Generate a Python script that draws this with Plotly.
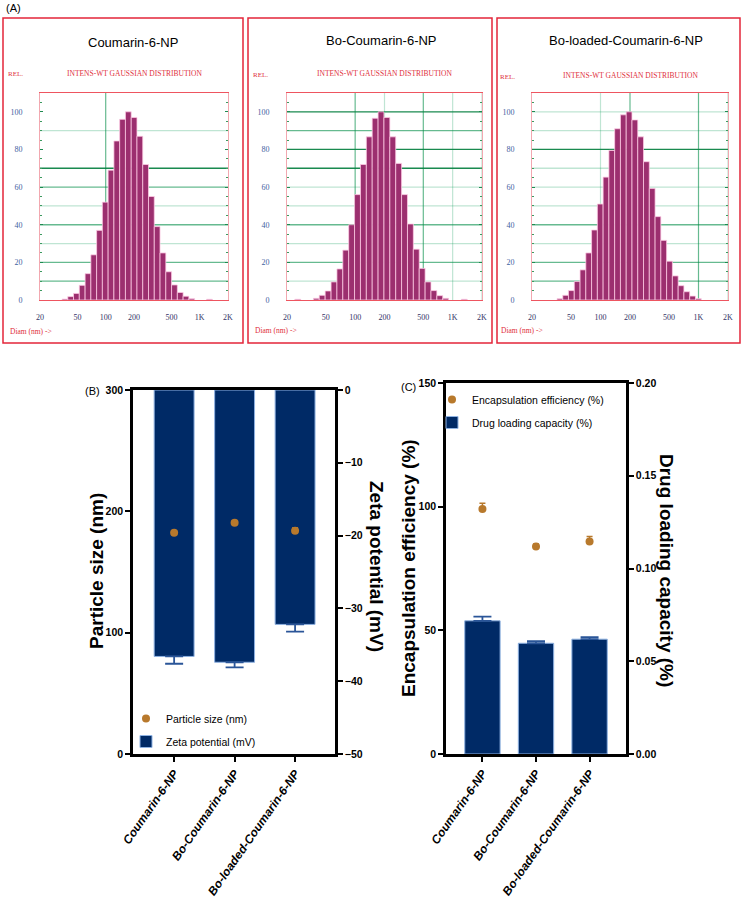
import numpy as np
import plotly.graph_objects as go

W, H = 743, 908

# ---------------- DATA ----------------
panel_titles = ["Coumarin-6-NP", "Bo-Coumarin-6-NP", "Bo-loaded-Coumarin-6-NP"]

# Panel A: intensity-weighted Gaussian distributions (bin centre diameter nm, relative intensity)
diam1 = [36.8, 42.4, 48.8, 56.2, 64.8, 74.6, 85.9, 98.9, 113.9, 131.2, 151.1, 174.0, 200.5,
         230.9, 265.9, 306.3, 352.7, 406.3, 467.9, 538.9, 620.6, 714.8, 823.2, 1270]
rel1 = [0.5, 1.8, 3.5, 7.8, 14, 24, 37, 52, 69, 84.5, 96, 100, 97, 87, 72, 55, 39, 25, 15, 8, 4, 2, 0.7, 0.4]

diam2 = [25.8, 40.0, 45.9, 52.8, 60.7, 69.7, 80.1, 92.0, 105.7, 121.5, 139.6, 160.3, 184.2,
         211.7, 243.2, 279.4, 321.0, 368.8, 423.7, 486.8, 559.3, 642.7, 738.4, 848.3, 1315]
rel2 = [0.4, 0.9, 2.5, 4.8, 9.6, 16.5, 26.5, 40, 56, 72, 86.7, 96.6, 100, 97, 86.7, 72.6, 56,
        40.4, 27, 16.8, 9.6, 5, 2.3, 0.9, 0.4]

diam3 = [38.5, 44.1, 50.4, 57.8, 66.2, 75.8, 86.8, 99.4, 113.8, 130.4, 149.3, 171.0, 195.8,
         224.3, 256.8, 294.1, 336.9, 385.8, 441.8, 506.0, 579.4, 663.6, 760.0, 870.3, 996.8]
rel3 = [0.7, 2.5, 5, 9.8, 16, 25, 37.2, 51, 65.3, 79.5, 91, 98.4, 100, 95.7, 86.7, 73.5, 59.3,
        44.3, 31.7, 20.6, 12.8, 7.6, 4.4, 2.1, 0.7]

diam_ticks = [20, 50, 100, 200, 500, 1000, 2000]
diam_ticktext = ["20", "50", "100", "200", "500", "1K", "2K"]
rel_ticks = [0, 20, 40, 60, 80, 100]

# Panel B
categories = ["Coumarin-6-NP", "Bo-Coumarin-6-NP", "Bo-loaded-Coumarin-6-NP"]
particle_size = [182.4, 190.6, 184.0]
particle_size_err = [1.5, 1.5, 2.5]
zeta = [-36.6, -37.4, -32.2]
zeta_err = [1.0, 0.7, 1.0]

# Panel C
enc_eff = [99.1, 83.9, 85.9]
enc_eff_err = [2.3, 1.0, 2.0]
drug_load = [0.0718, 0.0597, 0.0619]
drug_load_err = [0.0023, 0.0011, 0.0011]

# ---------------- HELPERS ----------------
def fx(p):
    return p / W

def fy(p):
    return 1 - p / H

BAR_A = "#9C2F6F"
NAVY = "#002A66"
BROWN = "#B8792C"
RED = "#E3263A"
DARK_G = "rgba(0,125,60,0.9)"
MED_G = "rgba(0,140,70,0.6)"
LIGHT_G = "rgba(0,150,80,0.25)"

SANS = "Liberation Sans, Arial"
SERIF = "Liberation Serif, Times New Roman"

fig = go.Figure()

# ---------------- PANEL A ----------------
hist_domains_x = [(40, 228), (287, 482), (532, 728)]
hist_y = (93, 300)
boxes = [(3, 243), (248, 492), (497, 740)]
title_pos = [(133, 42), (382, 40), (626, 41)]
sub_pos = [(134, 73), (384, 73), (630, 75)]
rel_pos = [(6, 74), (251, 75), (498, 77)]
diam_pos = [(8, 331), (253, 330), (499, 330)]

grid_h = [
    {10: MED_G, 20: MED_G, 30: LIGHT_G, 40: MED_G, 50: LIGHT_G, 60: MED_G, 70: DARK_G, 90: LIGHT_G},
    {10: LIGHT_G, 20: MED_G, 30: LIGHT_G, 40: MED_G, 50: LIGHT_G, 60: LIGHT_G, 70: DARK_G, 80: DARK_G, 90: MED_G, 100: DARK_G},
    {10: MED_G, 20: MED_G, 30: LIGHT_G, 40: MED_G, 50: LIGHT_G, 60: LIGHT_G, 70: LIGHT_G, 80: DARK_G, 90: LIGHT_G, 100: LIGHT_G},
]
grid_v = [
    {100: MED_G},
    {100: MED_G, 200: LIGHT_G, 500: MED_G, 1000: LIGHT_G, 2000: LIGHT_G},
    {100: LIGHT_G, 200: MED_G, 1000: MED_G, 2000: LIGHT_G},
]

shapes = []
annotations = []
layout_axes = {}

for i, (d, r) in enumerate([(diam1, rel1), (diam2, rel2), (diam3, rel3)]):
    n = i + 1
    sfx = "" if n == 1 else str(n)
    logd = np.log10(d)
    w = float(np.median(np.diff(logd)))
    fig.add_trace(go.Bar(
        x=logd, y=r, width=w,
        marker=dict(color=BAR_A, line=dict(color="rgba(255,205,230,0.95)", width=0.8)),
        xaxis=f"x{sfx}", yaxis=f"y{sfx}", showlegend=False, hoverinfo="skip"))
    x0, x1 = hist_domains_x[i]
    layout_axes[f"xaxis{sfx}"] = dict(
        domain=[fx(x0), fx(x1)], anchor=f"y{sfx}",
        range=[np.log10(20), np.log10(2000)],
        tickvals=np.log10(diam_ticks), ticktext=diam_ticktext,
        tickfont=dict(family=SERIF, size=8, color="#333366"),
        showline=True, linecolor="#EE5560", linewidth=1, mirror=True,
        showgrid=False, zeroline=False, ticks="", ticklabelstandoff=9)
    layout_axes[f"yaxis{sfx}"] = dict(
        domain=[fy(hist_y[1]), fy(hist_y[0])], anchor=f"x{sfx}",
        range=[0, 110], tickvals=rel_ticks,
        tickfont=dict(family=SERIF, size=8, color="#3F5F9F"),
        showline=True, linecolor="#F2A8B0", linewidth=1, mirror="ticks",
        ticks="inside", ticklen=3, tickcolor="#1E8A50",
        minor=dict(dtick=5, ticks="inside", ticklen=2, tickcolor="#3C9A60"),
        showgrid=False, zeroline=False, ticklabelstandoff=15)
    for lvl, col in grid_h[i].items():
        shapes.append(dict(type="line", xref=f"x{sfx} domain", yref=f"y{sfx}",
                           x0=0, x1=1, y0=lvl, y1=lvl, layer="below",
                           line=dict(color=col, width=1.3)))
    for lvl, col in grid_v[i].items():
        shapes.append(dict(type="line", xref=f"x{sfx}", yref=f"y{sfx} domain",
                           x0=np.log10(lvl), x1=np.log10(lvl), y0=0, y1=1, layer="below",
                           line=dict(color=col, width=1.2)))
    bx0, bx1 = boxes[i]
    shapes.append(dict(type="rect", xref="paper", yref="paper",
                       x0=fx(bx0), x1=fx(bx1), y0=fy(343), y1=fy(18),
                       line=dict(color=RED, width=1.5)))
    tx, ty = title_pos[i]
    annotations.append(dict(x=fx(tx), y=fy(ty), xref="paper", yref="paper", showarrow=False,
                            text=panel_titles[i], font=dict(family=SANS, size=13, color="black"),
                            xanchor="center", yanchor="middle"))
    sx, sy = sub_pos[i]
    annotations.append(dict(x=fx(sx), y=fy(sy), xref="paper", yref="paper", showarrow=False,
                            text="INTENS-WT GAUSSIAN DISTRIBUTION",
                            font=dict(family=SERIF, size=7.5, color="#E0303C"),
                            xanchor="center", yanchor="middle"))
    rx, ry = rel_pos[i]
    annotations.append(dict(x=fx(rx), y=fy(ry), xref="paper", yref="paper", showarrow=False,
                            text="REL.", font=dict(family=SERIF, size=7, color="#E0303C"),
                            xanchor="left", yanchor="middle"))
    dx, dy = diam_pos[i]
    annotations.append(dict(x=fx(dx), y=fy(dy), xref="paper", yref="paper", showarrow=False,
                            text="Diam (nm) ->", font=dict(family=SERIF, size=7.5, color="#E0303C"),
                            xanchor="left", yanchor="middle"))

annotations.append(dict(x=fx(4), y=fy(8), xref="paper", yref="paper", showarrow=False,
                        text="(A)", font=dict(family=SANS, size=11, color="black"),
                        xanchor="left", yanchor="middle"))

# ---------------- PANEL B ----------------
cat_x = list(range(len(categories)))
fig.add_trace(go.Scatter(
    x=cat_x, y=particle_size, mode="markers", name="Particle size (nm)",
    marker=dict(color=BROWN, size=8),
    error_y=dict(type="data", array=particle_size_err, arrayminus=[0] * 3, symmetric=False,
                 color=BROWN, thickness=1.5, width=3),
    xaxis="x4", yaxis="y5", legend="legend", legendgroup="ps"))
fig.add_trace(go.Bar(
    x=cat_x, y=zeta, width=0.66, name="Zeta potential (mV)",
    marker=dict(color=NAVY, line=dict(color="#8FB2E2", width=1)),
    error_y=dict(type="data", array=[0] * 3, arrayminus=zeta_err, symmetric=False,
                 color="#2A5598", thickness=1.8, width=9),
    xaxis="x4", yaxis="y4", legend="legend", legendgroup="zp"))

# ---------------- PANEL C ----------------
fig.add_trace(go.Scatter(
    x=cat_x, y=enc_eff, mode="markers", name="Encapsulation efficiency (%)",
    marker=dict(color=BROWN, size=8),
    error_y=dict(type="data", array=enc_eff_err, arrayminus=[0] * 3, symmetric=False,
                 color=BROWN, thickness=1.5, width=3),
    xaxis="x5", yaxis="y7", legend="legend2", legendgroup="ee"))
fig.add_trace(go.Bar(
    x=cat_x, y=drug_load, width=0.66, name="Drug loading capacity (%)",
    marker=dict(color=NAVY, line=dict(color="#8FB2E2", width=1)),
    error_y=dict(type="data", array=drug_load_err, arrayminus=[0] * 3, symmetric=False,
                 color="#2A5598", thickness=1.8, width=9),
    xaxis="x5", yaxis="y6", legend="legend2", legendgroup="dl"))

num_font = dict(family=SANS, size=10.5, color="black", weight="bold")
cat_font = dict(family=SANS, size=12, color="black", weight="bold", style="italic")
axis_common = dict(showline=True, linecolor="black", linewidth=2.5, ticks="outside",
                   ticklen=5, tickwidth=2, tickcolor="black", showgrid=False, zeroline=False,
                   automargin=False)

layout_axes["xaxis4"] = dict(domain=[fx(133), fx(335)], anchor="y4", range=[-0.68, 2.66],
                             tickvals=cat_x, ticktext=categories, tickangle=-55,
                             tickfont=cat_font, mirror=True, **axis_common)
layout_axes["yaxis4"] = dict(domain=[fy(754), fy(390)], anchor="x4", side="right",
                             range=[-50, 0], dtick=10, tickfont=num_font, **axis_common)
layout_axes["yaxis5"] = dict(anchor="x4", overlaying="y4", side="left",
                             range=[0, 300], dtick=100, tickfont=num_font, **axis_common)

layout_axes["xaxis5"] = dict(domain=[fx(446), fx(626)], anchor="y6", range=[-0.68, 2.68],
                             tickvals=cat_x, ticktext=categories, tickangle=-55,
                             tickfont=cat_font, mirror=True, **axis_common)
layout_axes["yaxis6"] = dict(domain=[fy(754), fy(383)], anchor="x5", side="right",
                             range=[0, 0.2], dtick=0.05, tickformat=".2f",
                             tickfont=num_font, **axis_common)
layout_axes["yaxis7"] = dict(anchor="x5", overlaying="y6", side="left",
                             range=[0, 150], dtick=50, tickfont=num_font, **axis_common)

title_font = dict(family=SANS, size=19, color="black", weight="bold")
for txt, x, y, ang in [("Particle size (nm)", 96, 571, -90),
                       ("Zeta potential (mV)", 377, 567, 90),
                       ("Encapsulation efficiency (%)", 408, 568, -90),
                       ("Drug loading capacity (%)", 667, 570, 90)]:
    annotations.append(dict(x=fx(x), y=fy(y), xref="paper", yref="paper", showarrow=False,
                            text=txt, textangle=ang, font=title_font,
                            xanchor="center", yanchor="middle"))
annotations.append(dict(x=fx(83), y=fy(391), xref="paper", yref="paper", showarrow=False,
                        text="(B)", font=dict(family=SANS, size=11, color="black"),
                        xanchor="left", yanchor="middle"))
annotations.append(dict(x=fx(399), y=fy(387), xref="paper", yref="paper", showarrow=False,
                        text="(C)", font=dict(family=SANS, size=11, color="black"),
                        xanchor="left", yanchor="middle"))

leg_font = dict(family=SANS, size=10.5, color="black")
fig.update_layout(
    width=W, height=H, autosize=False,
    margin=dict(l=0, r=0, t=0, b=0, pad=0, autoexpand=False),
    paper_bgcolor="white", plot_bgcolor="white",
    barmode="overlay",
    shapes=shapes, annotations=annotations,
    legend=dict(x=fx(126), y=fy(704), xanchor="left", yanchor="top", font=leg_font,
                bgcolor="rgba(0,0,0,0)", tracegroupgap=4, traceorder="grouped"),
    legend2=dict(x=fx(432), y=fy(385), xanchor="left", yanchor="top", font=leg_font,
                 bgcolor="rgba(0,0,0,0)", tracegroupgap=4, traceorder="grouped"),
    **layout_axes)

fig.write_html("out.html", config={"displayModeBar": False},
               post_script="document.body.style.margin='0px';")
